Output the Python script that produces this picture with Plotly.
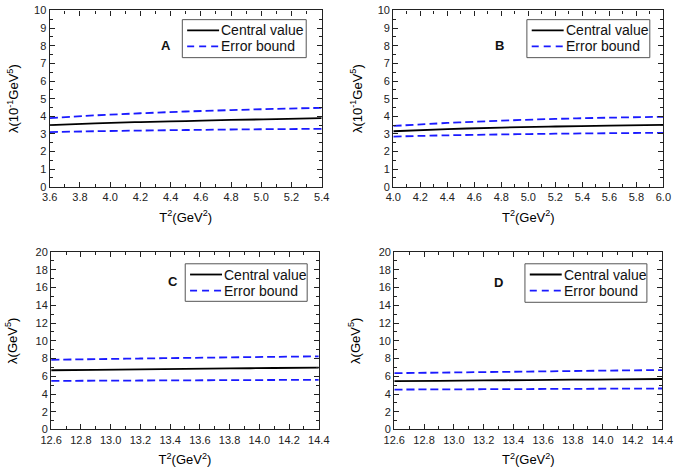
import plotly.graph_objects as go

# Panel A
xA = [3.6, 3.9, 4.2, 4.5, 4.8, 5.1, 5.4]
cA = [3.50, 3.60, 3.67, 3.73, 3.79, 3.84, 3.89]
uA = [3.90, 4.05, 4.17, 4.27, 4.35, 4.42, 4.48]
lA = [3.10, 3.15, 3.19, 3.22, 3.25, 3.27, 3.29]
# Panel B
xB = [4.0, 4.4, 4.8, 5.2, 5.6, 6.0]
cB = [3.15, 3.27, 3.36, 3.42, 3.47, 3.51]
uB = [3.45, 3.62, 3.75, 3.85, 3.92, 3.97]
lB = [2.85, 2.92, 2.97, 3.01, 3.04, 3.06]
# Panel C
xC = [12.6, 12.9, 13.2, 13.5, 13.8, 14.1, 14.4]
cC = [6.68, 6.73, 6.78, 6.83, 6.88, 6.93, 6.98]
uC = [7.85, 7.93, 8.00, 8.07, 8.13, 8.19, 8.25]
lC = [5.48, 5.50, 5.52, 5.54, 5.56, 5.58, 5.60]
# Panel D
xD = [12.6, 12.9, 13.2, 13.5, 13.8, 14.1, 14.4]
cD = [5.45, 5.49, 5.53, 5.57, 5.61, 5.65, 5.69]
uD = [6.35, 6.41, 6.47, 6.53, 6.59, 6.65, 6.70]
lD = [4.50, 4.52, 4.54, 4.56, 4.58, 4.60, 4.62]

panel_names = ["A", "B", "C", "D"]
legend_labels = ["Central value", "Error bound"]
x_title = "T<sup>2</sup>(GeV<sup>2</sup>)"
y_titles = ["λ(10<sup>-1</sup>GeV<sup>5</sup>)", "λ(10<sup>-1</sup>GeV<sup>5</sup>)",
            "λ(GeV<sup>5</sup>)", "λ(GeV<sup>5</sup>)"]

panels = [(xA, cA, uA, lA), (xB, cB, uB, lB), (xC, cC, uC, lC), (xD, cD, uD, lD)]

W, H = 685, 473
def px(x): return x / W
def py(y): return 1 - y / H

# plot boxes in pixels (x0, x1, ytop, ybottom)
boxes = [(40, 321, 4.6, 185.5), (395, 674, 4.6, 185.5), (41.5, 318, 252.5, 434.5), (396, 673, 252.5, 434.5)]
xranges = [[3.6, 5.4], [4.0, 6.0], [12.6, 14.4], [12.6, 14.4]]
yranges = [[0, 10], [0, 10], [0, 20], [0, 20]]
ydtick = [1, 1, 2, 2]
ystandoff = [12, 12, 15, 15]
# legend boxes (x0, x1, ytop, ybottom) in pixels
legend_boxes = [(177, 305, 14, 53), (533, 660, 14, 53), (180, 306, 264.5, 303), (531, 657, 264.5, 304)]
letter_pos = [(153, 31), (511, 31), (160, 283), (510, 284)]

font = "Liberation Sans, Arial, sans-serif"
blue = "#1a1aff"
dash = "8px,4px"
fig = go.Figure()
layout = dict(width=W, height=H, margin=dict(l=0, r=0, t=0, b=0),
              paper_bgcolor="white", plot_bgcolor="white", showlegend=False,
              font=dict(family=font, size=11, color="black"), annotations=[], shapes=[])

for i, (x, c, u, l) in enumerate(panels):
    k = "" if i == 0 else str(i + 1)
    fig.add_trace(go.Scatter(x=x, y=c, mode="lines", name=legend_labels[0],
                             line=dict(color="black", width=1.8, shape="spline"),
                             xaxis="x" + k, yaxis="y" + k))
    fig.add_trace(go.Scatter(x=x, y=u, mode="lines", name=legend_labels[1],
                             line=dict(color=blue, width=1.8, dash=dash, shape="spline"),
                             xaxis="x" + k, yaxis="y" + k))
    fig.add_trace(go.Scatter(x=x, y=l, mode="lines", name=legend_labels[1],
                             line=dict(color=blue, width=1.8, dash=dash, shape="spline"),
                             xaxis="x" + k, yaxis="y" + k))
    x0, x1, yt, yb = boxes[i]
    axcommon = dict(showline=True, linecolor="#222", linewidth=1.3, mirror="ticks", ticks="inside",
                    ticklen=5, tickwidth=1.2, tickcolor="#222", showgrid=False, zeroline=False,
                    tickfont=dict(size=11, family=font, color="#222"))
    layout["xaxis" + k] = dict(domain=[px(x0), px(x1)], range=xranges[i], dtick=0.2, tickformat=".1f",
                               anchor="y" + k, ticklabelstandoff=0,
                               minor=dict(ticks="inside", ticklen=3, tickcolor="#222", dtick=0.1),
                               title=dict(text=x_title, font=dict(size=13, family=font), standoff=10),
                               **axcommon)
    layout["yaxis" + k] = dict(domain=[py(yb), py(yt)], range=yranges[i], dtick=ydtick[i], anchor="x" + k,
                               minor=dict(ticks="inside", ticklen=3, tickcolor="#222", dtick=ydtick[i] / 2),
                               title=dict(text=y_titles[i], font=dict(size=13, family=font), standoff=ystandoff[i]),
                               **axcommon)
    # legend box drawn by hand
    bx0, bx1, byt, byb = legend_boxes[i]
    layout["shapes"].append(dict(type="rect", xref="paper", yref="paper", x0=px(bx0), x1=px(bx1),
                                 y0=py(byb), y1=py(byt), line=dict(color="#555", width=1), fillcolor="white"))
    row1 = byt + 11
    row2 = byt + 27.5
    layout["shapes"].append(dict(type="line", xref="paper", yref="paper", x0=px(bx0 + 5), x1=px(bx0 + 38),
                                 y0=py(row1), y1=py(row1), line=dict(color="black", width=1.8)))
    layout["shapes"].append(dict(type="line", xref="paper", yref="paper", x0=px(bx0 + 5), x1=px(bx0 + 38),
                                 y0=py(row2), y1=py(row2), line=dict(color=blue, width=1.8, dash="7px,5px")))
    for txt, ry in zip(legend_labels, [row1, row2]):
        layout["annotations"].append(dict(text=txt, x=px(bx0 + 39), y=py(ry), xref="paper", yref="paper",
                                          xanchor="left", yanchor="middle", showarrow=False, borderpad=0,
                                          font=dict(size=14, family=font, color="#111")))
    ax, ay = letter_pos[i]
    layout["annotations"].append(dict(text="<b>" + panel_names[i] + "</b>", x=px(ax), y=py(ay),
                                      xref="paper", yref="paper", showarrow=False,
                                      font=dict(size=13, family=font, color="#111")))

fig.update_layout(**layout)
fig.write_html("out.html", config={"displayModeBar": False},
               post_script="document.body.style.margin='0px';document.body.style.overflow='hidden';")
